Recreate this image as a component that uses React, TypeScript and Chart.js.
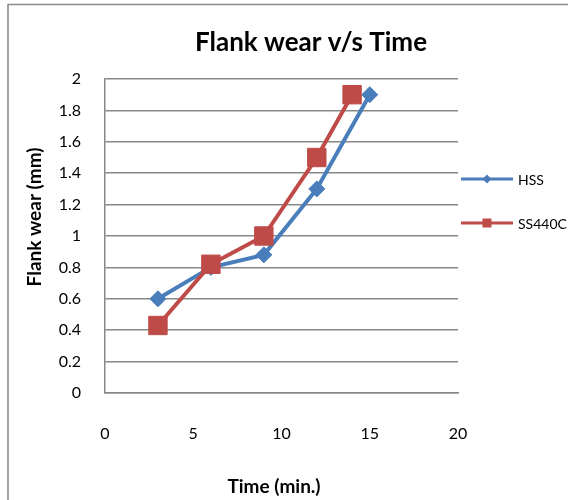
import React, { useEffect, useRef } from 'react'
import { Chart, registerables, Plugin } from 'chart.js'

Chart.register(...registerables)

// values
const hssTime = [3, 6, 9, 12, 15]
const hssWear = [0.6, 0.8, 0.88, 1.3, 1.9]
const ssTime = [3, 6, 9, 12, 14]
const ssWear = [0.43, 0.82, 1.0, 1.5, 1.9]
const xTicks = [0, 5, 10, 15, 20]
const yTicks = [0, 0.2, 0.4, 0.6, 0.8, 1, 1.2, 1.4, 1.6, 1.8, 2]
const seriesNames = ['HSS', 'SS440C']
const seriesColors = ['#4A7EBB', '#BE4B48']
const chartTitle = 'Flank wear v/s Time'
const xTitle = 'Time (min.)'
const yTitle = 'Flank wear (mm)'

const FONT = 'Lato, "Open Sans", sans-serif'
const GRID = '#878787'

// Excel-ish frame, title, axis titles and legend
const decorPlugin: Plugin<'scatter'> = {
    id: 'decor',
    beforeDraw(chart) {
        const { ctx, width, height } = chart
        ctx.save()
        ctx.fillStyle = '#fff'
        ctx.fillRect(0, 0, width, height)
        ctx.strokeStyle = '#8c8c8c'
        ctx.lineWidth = 1.6
        ctx.beginPath()
        ctx.moveTo(8, height)
        ctx.lineTo(8, 4.5)
        ctx.lineTo(width, 4.5)
        ctx.stroke()
        ctx.restore()
    },
    afterDraw(chart) {
        const { ctx } = chart
        ctx.save()
        ctx.fillStyle = '#000'
        ctx.textBaseline = 'middle'
        ctx.textAlign = 'center'

        ctx.font = `bold 26px ${FONT}`
        ctx.fillText(chartTitle, 311, 43)

        ctx.font = `bold 19px ${FONT}`
        ctx.fillText(xTitle, 274, 487)

        ctx.save()
        ctx.translate(35, 217)
        ctx.rotate(-Math.PI / 2)
        ctx.fillText(yTitle, 0, 0)
        ctx.restore()

        // legend
        ctx.textAlign = 'left'
        ctx.font = `14px ${FONT}`
        chart.data.datasets.forEach((ds, i) => {
            const y = 179 + i * 44
            const color = ds.borderColor as string
            ctx.strokeStyle = color
            ctx.fillStyle = color
            ctx.lineWidth = 3
            ctx.beginPath()
            ctx.moveTo(461, y)
            ctx.lineTo(513, y)
            ctx.stroke()
            ctx.beginPath()
            if (i === 0) {
                ctx.moveTo(487 - 4.5, y)
                ctx.lineTo(487, y - 4.5)
                ctx.lineTo(487 + 4.5, y)
                ctx.lineTo(487, y + 4.5)
                ctx.closePath()
            } else {
                ctx.rect(487 - 4.5, y - 4.5, 9, 9)
            }
            ctx.fill()
            ctx.fillStyle = '#000'
            ctx.fillText(ds.label as string, 518, y + 1)
        })
        ctx.restore()
    },
}

const App = () => {
    const chartRef = useRef<HTMLCanvasElement>(null)

    useEffect(() => {
        if (!chartRef.current) return
        const ctx = chartRef.current.getContext('2d')
        if (!ctx) return

        const myChart = new Chart(ctx, {
            type: 'scatter',
            data: {
                datasets: [
                    {
                        label: seriesNames[0],
                        data: hssTime.map((x, i) => ({ x, y: hssWear[i] })),
                        showLine: true,
                        borderColor: seriesColors[0],
                        backgroundColor: seriesColors[0],
                        borderWidth: 4,
                        pointStyle: 'rectRot',
                        pointRadius: 8,
                        pointBorderWidth: 1,
                        order: 1,
                    },
                    {
                        label: seriesNames[1],
                        data: ssTime.map((x, i) => ({ x, y: ssWear[i] })),
                        showLine: true,
                        borderColor: seriesColors[1],
                        backgroundColor: seriesColors[1],
                        borderWidth: 4,
                        pointStyle: 'rect',
                        pointRadius: 13,
                        pointBorderWidth: 1,
                        order: 0,
                    },
                ],
            },
            options: {
                responsive: false,
                animation: false,
                events: [],
                layout: { padding: { left: 0, top: 79, right: 110, bottom: 0 } },
                plugins: {
                    legend: { display: false },
                    title: { display: false },
                    tooltip: { enabled: false },
                },
                scales: {
                    x: {
                        type: 'linear',
                        min: 0,
                        max: 20,
                        afterBuildTicks: (scale) => {
                            scale.ticks = xTicks.map((value) => ({ value }))
                        },
                        afterFit: (scale) => {
                            scale.height = 107
                        },
                        grid: { color: 'rgba(0,0,0,0)', drawTicks: false },
                        border: { display: true, color: GRID, width: 1.5 },
                        ticks: {
                            padding: 31,
                            color: '#000',
                            font: { family: FONT, size: 16 },
                        },
                    },
                    y: {
                        type: 'linear',
                        min: 0,
                        max: 2,
                        afterBuildTicks: (scale) => {
                            scale.ticks = yTicks.map((value) => ({ value }))
                        },
                        afterFit: (scale) => {
                            scale.width = 105
                        },
                        grid: { color: GRID, lineWidth: 1.5, drawTicks: false },
                        border: { display: true, color: GRID, width: 1.5 },
                        ticks: {
                            padding: 24,
                            color: '#000',
                            font: { family: FONT, size: 16 },
                            callback: (v) => String(Math.round(Number(v) * 10) / 10),
                        },
                    },
                },
            },
            plugins: [decorPlugin],
        })

        return () => myChart.destroy()
    }, [])

    return (
        <div style={{ position: 'absolute', left: 0, top: 0, width: 568, height: 500, background: '#fff' }}>
            <canvas ref={chartRef} width={568} height={500} />
        </div>
    )
}

export default App
